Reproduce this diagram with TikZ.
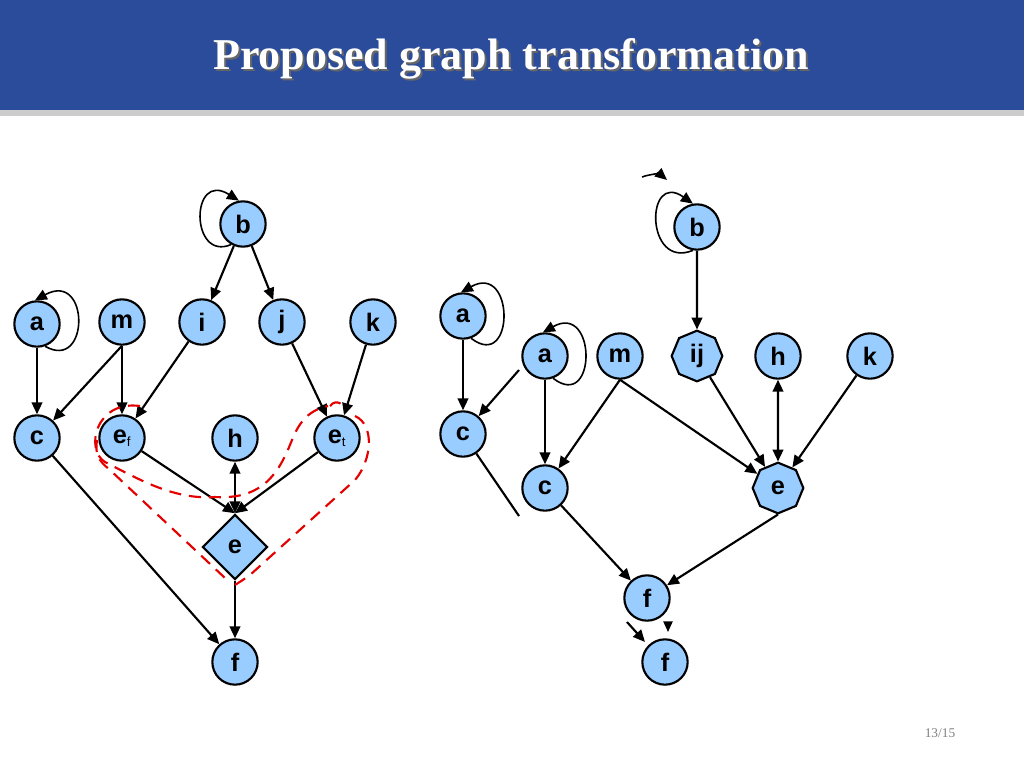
\documentclass[tikz,border=0pt]{standalone}
\usepackage{fontspec}
\setmainfont{Liberation Serif}
\newfontfamily\lab{Liberation Sans}
\usetikzlibrary{shapes.geometric,arrows.meta}
\definecolor{nodeblue}{HTML}{99CCFF}
\definecolor{barblue}{HTML}{2B4C9B}
\tikzset{
 vx/.style={circle,draw=black,line width=1.6pt,fill=nodeblue,minimum size=34pt,inner sep=0pt,font=\lab\bfseries\fontsize{19}{19}\selectfont},
 oct/.style={vx,regular polygon,regular polygon sides=8,minimum size=38pt,shape border rotate=22.5},
 dia/.style={vx,diamond,minimum size=49pt},
 ed/.style={-{Triangle[length=9pt,width=8pt]},line width=1.6pt},
 bed/.style={{Triangle[length=9pt,width=8pt]}-{Triangle[length=9pt,width=8pt]},line width=1.6pt},
 lp/.style={-{Triangle[length=9pt,width=8pt]},line width=1.2pt},
 rd/.style={red!90!black,dashed,dash pattern=on 9pt off 6pt,line width=1.6pt}
}
\begin{document}
\begin{tikzpicture}[x=0.75pt,y=-0.75pt]
\useasboundingbox (0,0) rectangle (1024,768);
\fill[gray!40] (0,110) rectangle (1024,116);
\fill[barblue] (0,0) rectangle (1024,110);
\node (tsh) at (513,61) {\fontsize{33}{33}\selectfont\bfseries\color{black!60}Proposed graph transformation};
\node (title) at (511,59) {\fontsize{33}{33}\selectfont\bfseries\color{white}Proposed graph transformation};
\node[text=gray,font=\fontsize{10}{10}\selectfont] (pg) at (940,733) {13/15};
% left graph
\node[vx] (b) at (243,224) {b};
\node[vx] (a) at (37,324) {a};
\node[vx] (m) at (122,322) {m};
\node[vx] (i) at (202,322) {i};
\node[vx] (j) at (282,322) {j};
\node[vx] (k) at (373,322) {k};
\node[vx] (c) at (37,438) {c};
\node[vx] (ef) at (122,438) {e\textsubscript{\fontsize{10}{10}\selectfont\mdseries f}};
\node[vx] (h) at (235,438) {h};
\node[vx] (et) at (337,438) {e\textsubscript{\fontsize{10}{10}\selectfont\mdseries t}};
\node[dia] (e) at (235,547) {e};
\node[vx] (f) at (235,662) {f};
\draw[lp] (a.-70) .. controls (90,372) and (90,270) .. (a.95);
\draw[lp] (b.-120) .. controls (190,262) and (190,170) .. (b.100);
\draw[ed] (b) -- (i); \draw[ed] (b) -- (j);
\draw[ed] (a) -- (c); \draw[ed] (m.-90) -- (c);
\draw[ed] (m) -- (ef); \draw[ed] (i) -- (ef);
\draw[ed] (j) -- (et); \draw[ed] (k) -- (et);
\draw[ed] (ef) -- (e.north); \draw[ed] (et) -- (e.north);
\draw[bed] (h) -- (e.north);
\draw[ed] (e) -- (f); \draw[ed] (c) -- (f);
% red dashed regions
\draw[rd] (140,406) .. controls (95,400) and (85,450) .. (105,462)
 .. controls (140,480) and (175,500) .. (215,497) .. controls (265,500) and (280,470) .. (292,440)
 .. controls (300,420) and (310,410) .. (328,406);
\draw[rd] (330,406) .. controls (336,398) and (345,405) .. (345,410);
\draw[rd] (355,416) .. controls (375,425) and (372,460) .. (355,480)
 -- (250,575) .. controls (240,582) and (235,585) .. (230,588);
\draw[rd] (97,440) .. controls (95,455) and (98,460) .. (110,470) -- (225,578);
% right graph
\node[vx] (b2) at (697,227) {b};
\node[vx] (al) at (463,316) {a};
\node[vx] (a2) at (545,356) {a};
\node[vx] (m2) at (620,356) {m};
\node[oct] (ij) at (697,356) {ij};
\node[vx] (h2) at (778,356) {h};
\node[vx] (k2) at (870,356) {k};
\node[vx] (cl) at (463,434) {c};
\node[vx] (c2) at (545,488) {c};
\node[oct] (e2) at (778,488) {e};
\node[vx] (f2) at (647,598) {f};
\node[vx] (f3) at (665,662) {f};
\coordinate (lcut) at (519,516);
\coordinate (lin) at (519,370);
\coordinate (tl) at (642,177);
\coordinate (tr) at (667,180);
\coordinate (fa) at (627,622);
\coordinate (fb) at (645,642);
\coordinate (fc) at (668,622);
\coordinate (fd) at (668,632);
\draw[lp] (al.-70) .. controls (515,372) and (515,262) .. (al.95);
\draw[lp] (a2.-70) .. controls (597,412) and (597,302) .. (a2.95);
\draw[lp] (b2.-100) .. controls (645,270) and (645,170) .. (b2.100);
\draw[lp] (tl) .. controls (650,174) and (660,174) .. (tr);
\draw[ed] (al) -- (cl);
\draw[ed] (lin) -- (cl);
\draw[line width=1.6pt] (cl) -- (lcut);
\draw[ed] (b2) -- (ij);
\draw[ed] (a2) -- (c2); \draw[ed] (m2.-90) -- (c2);
\draw[ed] (m2.-90) -- (e2);
\draw[ed] (ij) -- (e2); \draw[bed] (h2) -- (e2); \draw[ed] (k2) -- (e2);
\draw[ed] (c2) -- (f2); \draw[ed] (e2.south) -- (f2);
\draw[ed] (fa) -- (fb);
\draw[-{Triangle[length=8pt,width=7pt]},line width=1pt] (fc) -- (fd);
\end{tikzpicture}
\end{document}
